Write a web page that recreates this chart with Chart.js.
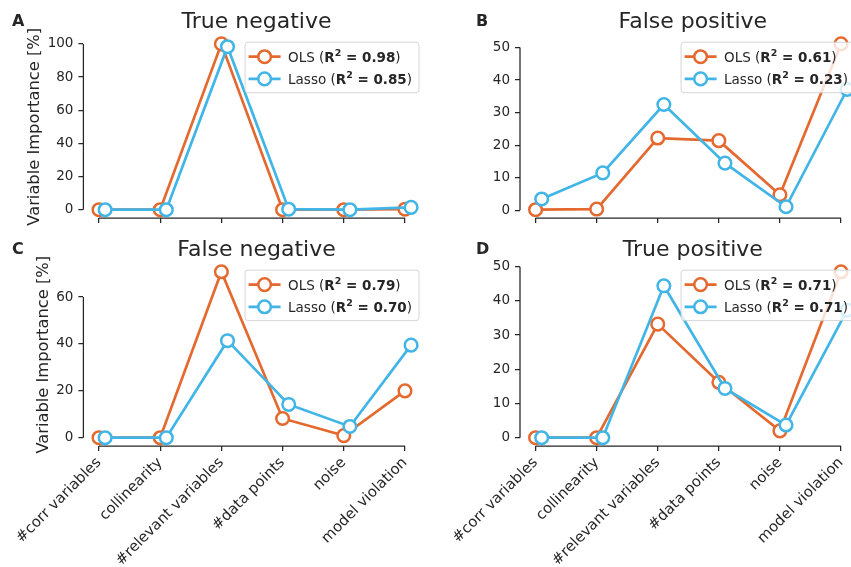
<!DOCTYPE html>
<html>
<head>
<meta charset="utf-8">
<script src="https://cdn.jsdelivr.net/npm/chart.js@4.4.1/dist/chart.umd.min.js"></script>
<style>
    html, body { margin: 0; padding: 0; background: #fff; overflow: hidden; }
    #fig { position: relative; width: 851px; height: 567px; overflow: hidden; background: #fff; }
    canvas { position: absolute; }
</style>
</head>
<body>
<div id="fig">
    <canvas id="cA"></canvas>
    <canvas id="cB"></canvas>
    <canvas id="cC"></canvas>
    <canvas id="cD"></canvas>
</div>
<script>
// data
const categories = ['#corr variables', 'collinearity', '#relevant variables', '#data points', 'noise', 'model violation'];

const trueNegOls   = [0, 0, 100, 0, 0, 0.3];
const trueNegLasso = [0, 0, 98.3, 0.3, 0, 1.4];
const falsePosOls   = [0.2, 0.4, 22.2, 21.4, 4.8, 51.1];
const falsePosLasso = [3.5, 11.5, 32.5, 14.5, 1.1, 37.1];
const falseNegOls   = [0, 0, 70.8, 8.2, 0.9, 20.0];
const falseNegLasso = [0, 0, 41.4, 14.2, 4.8, 39.5];
const truePosOls   = [0, 0, 33.2, 16.2, 2.0, 48.5];
const truePosLasso = [0, 0, 44.4, 14.4, 3.7, 37.3];

const r2Ols   = ['0.98', '0.61', '0.79', '0.71'];
const r2Lasso = ['0.85', '0.23', '0.70', '0.71'];

const ticksTrueNeg = [0, 20, 40, 60, 80, 100];
const ticksFalsePos = [0, 10, 20, 30, 40, 50];
const ticksFalseNeg = [0, 20, 40, 60];
const ticksTruePos = [0, 10, 20, 30, 40, 50];

const ORANGE = '#e4692f';
const BLUE = '#41b5e6';
const INK = '#262626';
const FONT = '"DejaVu Sans", sans-serif';

// layout (pixels in the figure)
const colCanvas = [{ x: 0, w: 440 }, { x: 425, w: 455 }];
const colArea = [{ l: 83.4, r: 426.7 }, { l: 520, r: 862.7 }];
const rowCanvas = [{ y: 0, h: 235 }, { y: 235, h: 332 }];
const rowArea = [{ t: 35.6, b: 218 }, { t: 263.5, b: 446 }];
const letterX = [12, 476];
const Y_AXIS_W = 50;
const X_AXIS_H = [10, 121];

const panels = [
    { id: 'cA', letter: 'A', title: 'True negative', ols: trueNegOls, lasso: trueNegLasso, ticks: ticksTrueNeg, r2: 0, col: 0, row: 0 },
    { id: 'cB', letter: 'B', title: 'False positive', ols: falsePosOls, lasso: falsePosLasso, ticks: ticksFalsePos, r2: 1, col: 1, row: 0 },
    { id: 'cC', letter: 'C', title: 'False negative', ols: falseNegOls, lasso: falseNegLasso, ticks: ticksFalseNeg, r2: 2, col: 0, row: 1 },
    { id: 'cD', letter: 'D', title: 'True positive', ols: truePosOls, lasso: truePosLasso, ticks: ticksTruePos, r2: 3, col: 1, row: 1 }
];

function toPoints(values, shift) {
    return values.map((v, i) => ({ x: i + shift, y: v }));
}

function drawLegend(ctx, area, p) {
    const fs = 13.5;
    const norm = fs + 'px ' + FONT;
    const bold = 'bold ' + fs + 'px ' + FONT;
    const sup = 'bold ' + (fs * 0.7) + 'px ' + FONT;
    const rows = [
        { name: 'OLS', r2: r2Ols[p.r2], color: ORANGE },
        { name: 'Lasso', r2: r2Lasso[p.r2], color: BLUE }
    ];
    const pieces = r => [
        [r.name + ' (', norm, 0],
        ['R', bold, 0],
        ['2', sup, -5.5],
        [' = ' + r.r2, bold, 0],
        [')', norm, 0]
    ];
    let maxW = 0;
    rows.forEach(r => {
        let w = 0;
        pieces(r).forEach(pc => { ctx.font = pc[1]; w += ctx.measureText(pc[0]).width; });
        maxW = Math.max(maxW, w);
    });
    const bw = 43 + maxW + 7, bh = 50.5;
    const bx = area.right - 7.7 - bw, by = area.top + 6.6;

    ctx.save();
    ctx.beginPath();
    ctx.roundRect(bx, by, bw, bh, 3);
    ctx.fillStyle = 'rgba(255,255,255,0.8)';
    ctx.fill();
    ctx.strokeStyle = 'rgba(204,204,204,0.8)';
    ctx.lineWidth = 1;
    ctx.stroke();

    rows.forEach((r, k) => {
        const cy = by + 14.5 + k * 22.2;
        ctx.strokeStyle = r.color;
        ctx.lineWidth = 2.7;
        ctx.beginPath();
        ctx.moveTo(bx + 3.5, cy);
        ctx.lineTo(bx + 35.5, cy);
        ctx.stroke();
        ctx.beginPath();
        ctx.arc(bx + 19.5, cy, 6.3, 0, Math.PI * 2);
        ctx.fillStyle = '#fff';
        ctx.fill();
        ctx.lineWidth = 2.5;
        ctx.stroke();

        let x = bx + 43;
        ctx.fillStyle = INK;
        ctx.textAlign = 'left';
        ctx.textBaseline = 'alphabetic';
        pieces(r).forEach(pc => {
            ctx.font = pc[1];
            ctx.fillText(pc[0], x, cy + 4.9 + pc[2]);
            x += ctx.measureText(pc[0]).width;
        });
    });
    ctx.restore();
}

const decor = {
    id: 'decor',
    afterDraw(chart, args, opts) {
        const p = opts.panel;
        const ctx = chart.ctx;
        const area = chart.chartArea;
        const xs = chart.scales.x, ys = chart.scales.y;

        ctx.save();
        // trimmed spines
        ctx.strokeStyle = INK;
        ctx.lineWidth = 1.25;
        ctx.beginPath();
        ctx.moveTo(area.left, ys.getPixelForValue(p.ticks[0]));
        ctx.lineTo(area.left, ys.getPixelForValue(p.ticks[p.ticks.length - 1]));
        ctx.moveTo(xs.getPixelForValue(0), area.bottom);
        ctx.lineTo(xs.getPixelForValue(categories.length - 1), area.bottom);
        ctx.stroke();

        // title
        ctx.fillStyle = INK;
        ctx.font = '22px ' + FONT;
        ctx.textAlign = 'center';
        ctx.textBaseline = 'alphabetic';
        ctx.fillText(p.title, (area.left + area.right) / 2 + 1.5, area.top - 8);

        // panel letter
        ctx.font = 'bold 16px ' + FONT;
        ctx.textAlign = 'left';
        ctx.fillText(p.letter, letterX[p.col] - colCanvas[p.col].x, area.top - 9.5);

        // y axis label
        if (p.col === 0) {
            ctx.font = '13.5px ' + FONT;
            let tw = 0;
            p.ticks.forEach(t => { tw = Math.max(tw, ctx.measureText(String(t)).width); });
            const lx = area.left - 10 - tw - 12.5;
            ctx.translate(lx, (area.top + area.bottom) / 2);
            ctx.rotate(-Math.PI / 2);
            ctx.font = '16.3px ' + FONT;
            ctx.textAlign = 'center';
            ctx.textBaseline = 'middle';
            ctx.fillText('Variable Importance [%]', 0, 0);
        }
        ctx.restore();

        drawLegend(ctx, area, p);
    }
};

panels.forEach(p => {
    const cc = colCanvas[p.col], rc = rowCanvas[p.row];
    const ca = colArea[p.col], ra = rowArea[p.row];
    const canvas = document.getElementById(p.id);
    canvas.width = cc.w;
    canvas.height = rc.h;
    canvas.style.left = cc.x + 'px';
    canvas.style.top = rc.y + 'px';
    canvas.style.width = cc.w + 'px';
    canvas.style.height = rc.h + 'px';

    const all = p.ols.concat(p.lasso);
    const lo = Math.min(...all), hi = Math.max(...all);
    const m = 0.05 * (hi - lo);
    const xm = 0.05 * (categories.length - 1 + 0.1);

    new Chart(canvas.getContext('2d'), {
        type: 'line',
        data: {
            datasets: [
                {
                    label: 'OLS',
                    data: toPoints(p.ols, 0),
                    borderColor: ORANGE,
                    pointBorderColor: ORANGE,
                    order: 2
                },
                {
                    label: 'Lasso',
                    data: toPoints(p.lasso, 0.1),
                    borderColor: BLUE,
                    pointBorderColor: BLUE,
                    order: 1
                }
            ]
        },
        options: {
            responsive: false,
            animation: false,
            devicePixelRatio: 1,
            layout: {
                padding: {
                    left: ca.l - cc.x - Y_AXIS_W,
                    top: ra.t - rc.y,
                    right: cc.x + cc.w - ca.r,
                    bottom: rc.y + rc.h - ra.b - X_AXIS_H[p.row]
                }
            },
            elements: {
                line: { borderWidth: 2.7, tension: 0 },
                point: { radius: 6.3, hoverRadius: 6.3, borderWidth: 2.5, backgroundColor: '#fff' }
            },
            datasets: { line: { clip: false } },
            plugins: {
                legend: { display: false },
                tooltip: { enabled: false },
                decor: { panel: p }
            },
            scales: {
                x: {
                    type: 'linear',
                    min: -xm,
                    max: categories.length - 1 + 0.1 + xm,
                    afterBuildTicks: s => { s.ticks = categories.map((c, i) => ({ value: i })); },
                    afterFit: s => { s.height = X_AXIS_H[p.row]; s.paddingLeft = 0; s.paddingRight = 0; },
                    border: { display: false },
                    grid: { drawOnChartArea: false, drawTicks: true, tickLength: 5, color: INK, lineWidth: 1.25 },
                    ticks: {
                        autoSkip: false,
                        minRotation: 45,
                        maxRotation: 45,
                        padding: 3,
                        color: INK,
                        font: { family: FONT, size: 14.8 },
                        callback: v => p.row === 1 ? categories[v] : ''
                    }
                },
                y: {
                    min: lo - m,
                    max: hi + m,
                    afterBuildTicks: s => { s.ticks = p.ticks.map(v => ({ value: v })); },
                    afterFit: s => { s.width = Y_AXIS_W; },
                    border: { display: false },
                    grid: { drawOnChartArea: false, drawTicks: true, tickLength: 5, color: INK, lineWidth: 1.25 },
                    ticks: {
                        padding: 5,
                        color: INK,
                        font: { family: FONT, size: 13.5 },
                        callback: v => String(v)
                    }
                }
            }
        },
        plugins: [decor]
    });
});
</script>
</body>
</html>
